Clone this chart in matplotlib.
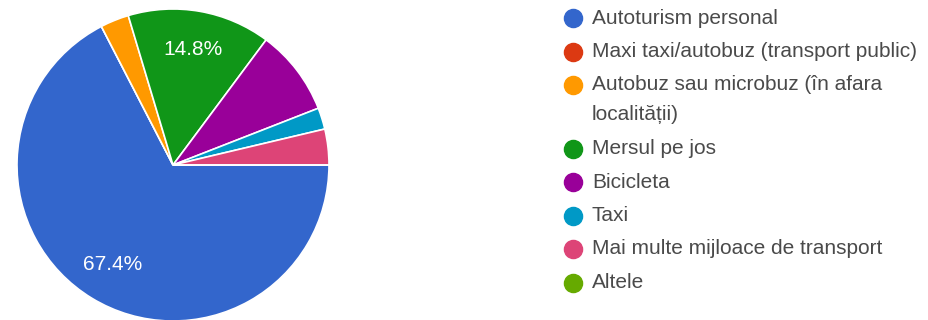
import matplotlib.pyplot as plt

labels = [
    "Autoturism personal",
    "Maxi taxi/autobuz (transport public)",
    "Autobuz sau microbuz (în afara\nlocalității)",
    "Mersul pe jos",
    "Bicicleta",
    "Taxi",
    "Mai multe mijloace de transport",
    "Altele",
]
counts = [91, 0, 4, 20, 12, 3, 5, 0]
colors = ["#3366cc", "#dc3912", "#ff9900", "#109618",
          "#990099", "#0099c6", "#dd4477", "#66aa00"]

plt.rcParams['font.family'] = ['Liberation Sans', 'DejaVu Sans']

fig = plt.figure(figsize=(9.29, 3.2), dpi=100)
ax = fig.add_axes([0, 0, 1, 1])


def pct_label(p):
    return f"{p:.1f}%" if p >= 10 else ""


wedges, _, autotexts = ax.pie(
    counts, colors=colors, startangle=0, counterclock=False,
    center=(173, 155), radius=156, autopct=pct_label, pctdistance=0.75,
    wedgeprops=dict(edgecolor="white", linewidth=1.2),
    textprops=dict(color="white", fontsize=15),
)

# legend on the right, one row per category (wrapped labels take extra lines)
y = 302
for lab, col in zip(labels, colors):
    ax.scatter([573], [y], s=170, color=col, zorder=3)
    for i, line in enumerate(lab.split("\n")):
        ax.text(592, y - i * 30, line, va="center", ha="left",
                fontsize=15, color="#4a4a4a")
    y -= 33.5 + 30 * lab.count("\n")

ax.set_xlim(0, 929)
ax.set_ylim(0, 320)
ax.set_aspect("equal")
ax.axis("off")

fig.savefig("out.png", dpi=100)
